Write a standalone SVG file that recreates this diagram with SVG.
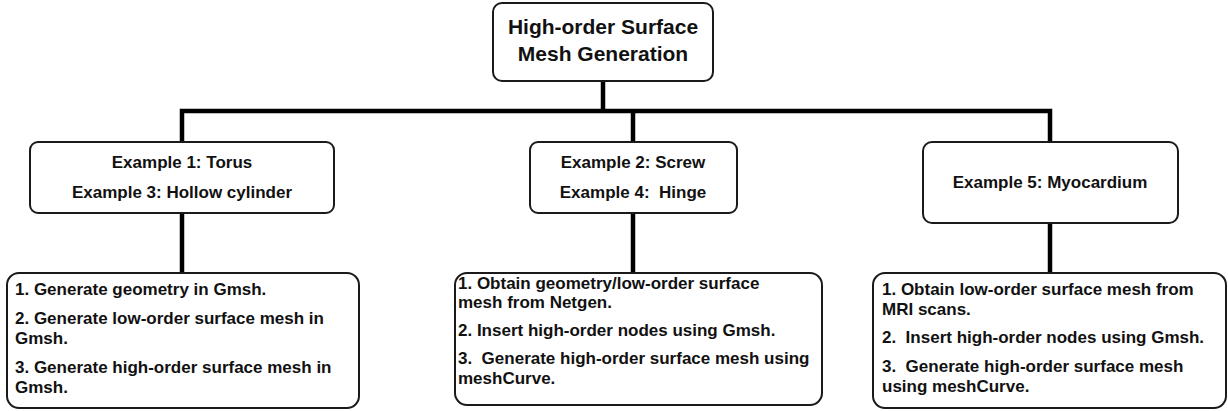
<svg xmlns="http://www.w3.org/2000/svg" width="1228" height="411" viewBox="0 0 1228 411">
  <style>
    .box { fill: #ffffff; stroke: #1a1a1a; stroke-width: 2; }
    .wire { fill: none; stroke: #000000; stroke-width: 4.5; stroke-linejoin: miter; }
    text { font-family: "Liberation Sans", Arial, sans-serif; font-weight: bold; fill: #111111; }
    .title { font-size: 21px; text-anchor: middle; }
    .ex { font-size: 17px; text-anchor: middle; }
    .step { font-size: 17px; }
  </style>
  <rect width="1228" height="411" fill="#ffffff"/>

  <!-- connectors -->
  <g id="connectors">
    <path class="wire" d="M603,81 V111"/>
    <path class="wire" d="M182,142 V111 H1050 V142"/>
    <path class="wire" d="M633,111 V142"/>
    <path class="wire" d="M182,213 V273"/>
    <path class="wire" d="M633,213 V273"/>
    <path class="wire" d="M1050,223 V273"/>
  </g>

  <!-- root -->
  <g id="root">
    <rect class="box" x="493" y="3" width="220" height="78" rx="9"/>
    <text class="title" x="603" y="34">High-order Surface</text>
    <text class="title" x="603" y="61">Mesh Generation</text>
  </g>

  <!-- example groups -->
  <g id="examples-1-3">
    <rect class="box" x="30" y="142" width="304" height="71" rx="8"/>
    <text class="ex" x="182" y="168">Example 1: Torus</text>
    <text class="ex" x="182" y="198">Example 3: Hollow cylinder</text>
  </g>
  <g id="examples-2-4">
    <rect class="box" x="530" y="142" width="207" height="71" rx="8"/>
    <text class="ex" x="633" y="168">Example 2: Screw</text>
    <text class="ex" x="633" y="198" xml:space="preserve">Example 4:  Hinge</text>
  </g>
  <g id="example-5">
    <rect class="box" x="923" y="142" width="255" height="81" rx="9"/>
    <text class="ex" x="1050" y="188">Example 5: Myocardium</text>
  </g>

  <!-- workflow steps -->
  <g id="steps-gmsh">
    <rect class="box" x="7" y="273" width="352" height="135" rx="12"/>
    <text class="step" x="15" y="295">1. Generate geometry in Gmsh.</text>
    <text class="step" x="15" y="324">2. Generate low-order surface mesh in</text>
    <text class="step" x="15" y="344">Gmsh.</text>
    <text class="step" x="15" y="373">3. Generate high-order surface mesh in</text>
    <text class="step" x="15" y="393">Gmsh.</text>
  </g>
  <g id="steps-netgen">
    <rect class="box" x="455" y="273" width="367" height="132" rx="12"/>
    <text class="step" x="458" y="289">1. Obtain geometry/low-order surface</text>
    <text class="step" x="458" y="308">mesh from Netgen.</text>
    <text class="step" x="458" y="336">2. Insert high-order nodes using Gmsh.</text>
    <text class="step" x="458" y="364" xml:space="preserve">3.  Generate high-order surface mesh using</text>
    <text class="step" x="458" y="384">meshCurve.</text>
  </g>
  <g id="steps-mri">
    <rect class="box" x="873" y="273" width="353" height="135" rx="12"/>
    <text class="step" x="882" y="295">1. Obtain low-order surface mesh from</text>
    <text class="step" x="882" y="315">MRI scans.</text>
    <text class="step" x="882" y="343" xml:space="preserve">2.  Insert high-order nodes using Gmsh.</text>
    <text class="step" x="882" y="372" xml:space="preserve">3.  Generate high-order surface mesh</text>
    <text class="step" x="882" y="392">using meshCurve.</text>
  </g>
</svg>
